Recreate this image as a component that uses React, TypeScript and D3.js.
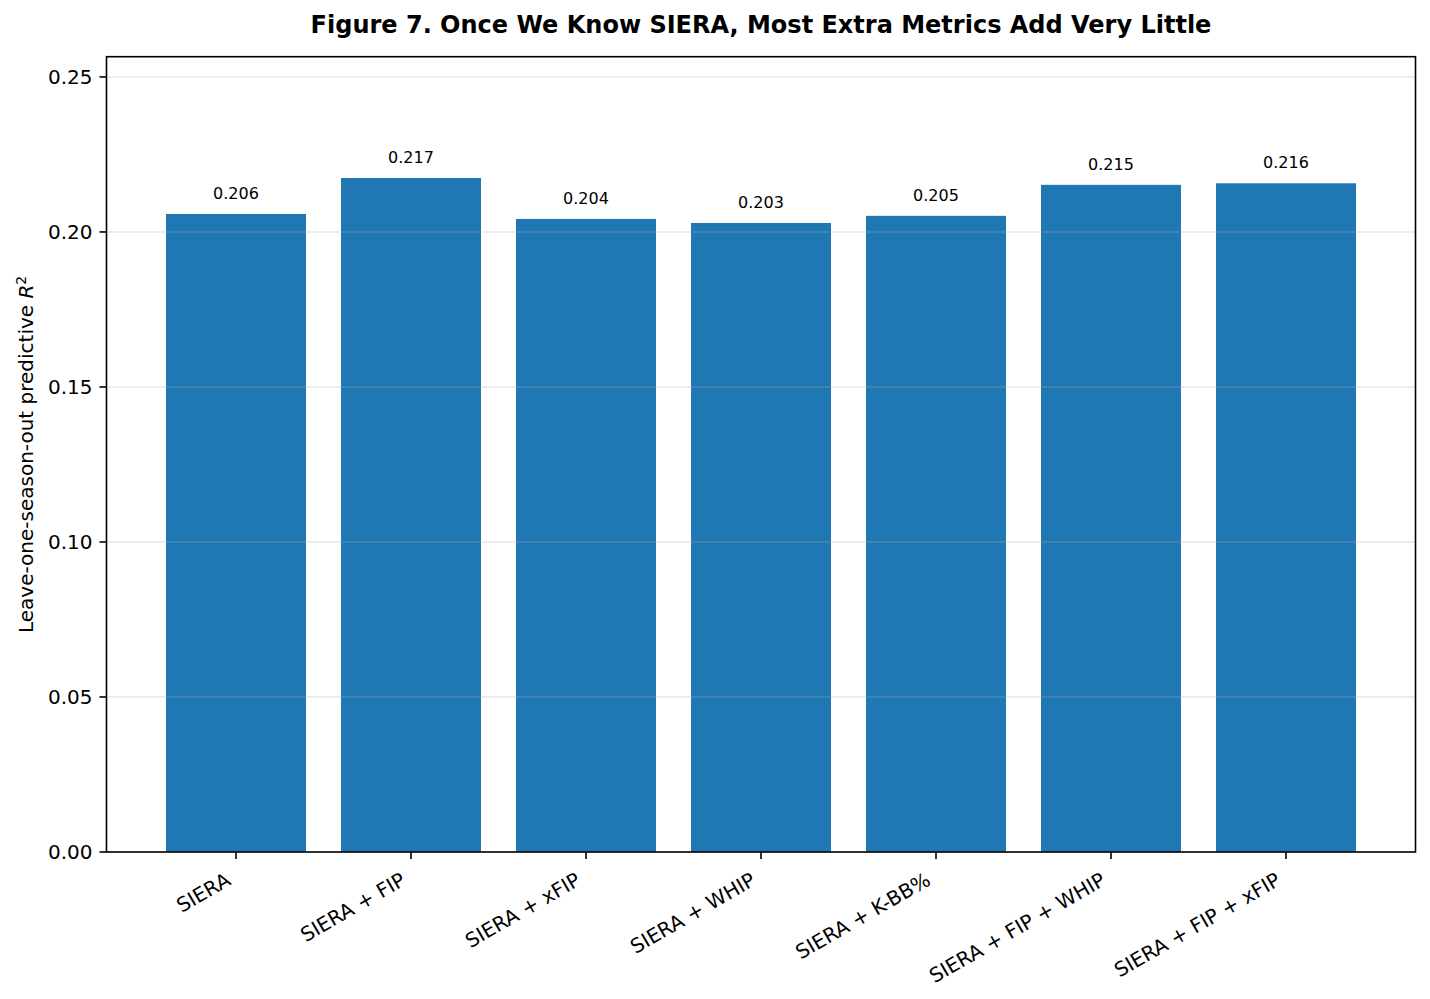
import React from "react"
import * as d3 from "d3"

const categories = [
  "SIERA",
  "SIERA + FIP",
  "SIERA + xFIP",
  "SIERA + WHIP",
  "SIERA + K-BB%",
  "SIERA + FIP + WHIP",
  "SIERA + FIP + xFIP",
]
const r2Values = [0.2058, 0.2174, 0.2042, 0.2029, 0.2052, 0.2152, 0.2157]
const yTicks = [0, 0.05, 0.1, 0.15, 0.2, 0.25]

const title = "Figure 7. Once We Know SIERA, Most Extra Metrics Add Very Little"

const W = 1430
const H = 999
const margin = { top: 56.7, right: 14.5, bottom: 147, left: 106.5 }
const font = "DejaVu Sans, sans-serif"
const pt = 2 // px per point

const App: React.FC = () => {
  const x0 = margin.left
  const x1 = W - margin.right
  const y0 = margin.top
  const y1 = H - margin.bottom

  // matplotlib-like: bars 0.8 wide, 5% margins on x, ylim = max * 1.18
  const n = categories.length
  const xScale = d3.scaleLinear().domain([-0.74, n - 1 + 0.74]).range([x0, x1])
  const yMax = (d3.max(r2Values) as number) * 1.18
  const yScale = d3.scaleLinear().domain([0, yMax]).range([y1, y0])
  const barW = xScale(0.8) - xScale(0)
  const tickLen = 3.5 * pt
  const lw = 0.8 * pt

  return (
    <svg width={W} height={H} style={{ position: "absolute", left: 0, top: 0, background: "#fff" }} fontFamily={font}>
      <rect x={0} y={0} width={W} height={H} fill="#fff" />

      {/* bars */}
      {r2Values.map((v, i) => (
        <rect
          key={categories[i]}
          x={xScale(i) - barW / 2}
          y={yScale(v)}
          width={barW}
          height={yScale(0) - yScale(v)}
          fill="#1f77b4"
        />
      ))}

      {/* grid (drawn over bars) */}
      {yTicks.map((t) => (
        <line key={"g" + t} x1={x0} x2={x1} y1={yScale(t)} y2={yScale(t)}
          stroke="#b0b0b0" strokeOpacity={0.3} strokeWidth={lw} />
      ))}

      {/* value labels */}
      {r2Values.map((v, i) => (
        <text key={"v" + i} x={xScale(i)} y={yScale(v) - 15} textAnchor="middle" fontSize={8 * pt} fill="#000">
          {v.toFixed(3)}
        </text>
      ))}

      {/* y ticks */}
      {yTicks.map((t) => (
        <g key={"t" + t}>
          <line x1={x0 - tickLen} x2={x0} y1={yScale(t)} y2={yScale(t)} stroke="#000" strokeWidth={lw} />
          <text x={x0 - 2 * tickLen} y={yScale(t)} dy="0.36em" textAnchor="end" fontSize={10 * pt} fill="#000">
            {t.toFixed(2)}
          </text>
        </g>
      ))}

      {/* x ticks */}
      {categories.map((c, i) => {
        const tx = xScale(i)
        return (
          <g key={"x" + c}>
            <line x1={tx} x2={tx} y1={y1} y2={y1 + tickLen} stroke="#000" strokeWidth={lw} />
            <text transform={`translate(${tx - 4},${y1 + 32}) rotate(-30)`} textAnchor="end" fontSize={10 * pt} fill="#000">
              {c}
            </text>
          </g>
        )
      })}

      {/* spines */}
      <rect x={x0} y={y0} width={x1 - x0} height={y1 - y0} fill="none" stroke="#000" strokeWidth={lw} />

      {/* y label */}
      <text transform={`translate(33,${(y0 + y1) / 2}) rotate(-90)`} textAnchor="middle" fontSize={10 * pt} fill="#000">
        Leave-one-season-out predictive <tspan fontStyle="italic">R</tspan>
        <tspan dy={-7} fontSize={14}>2</tspan>
      </text>

      {/* title */}
      <text x={(x0 + x1) / 2} y={33} textAnchor="middle" fontSize={12 * pt} fontWeight="bold" fill="#000">
        {title}
      </text>
    </svg>
  )
}

export default App
